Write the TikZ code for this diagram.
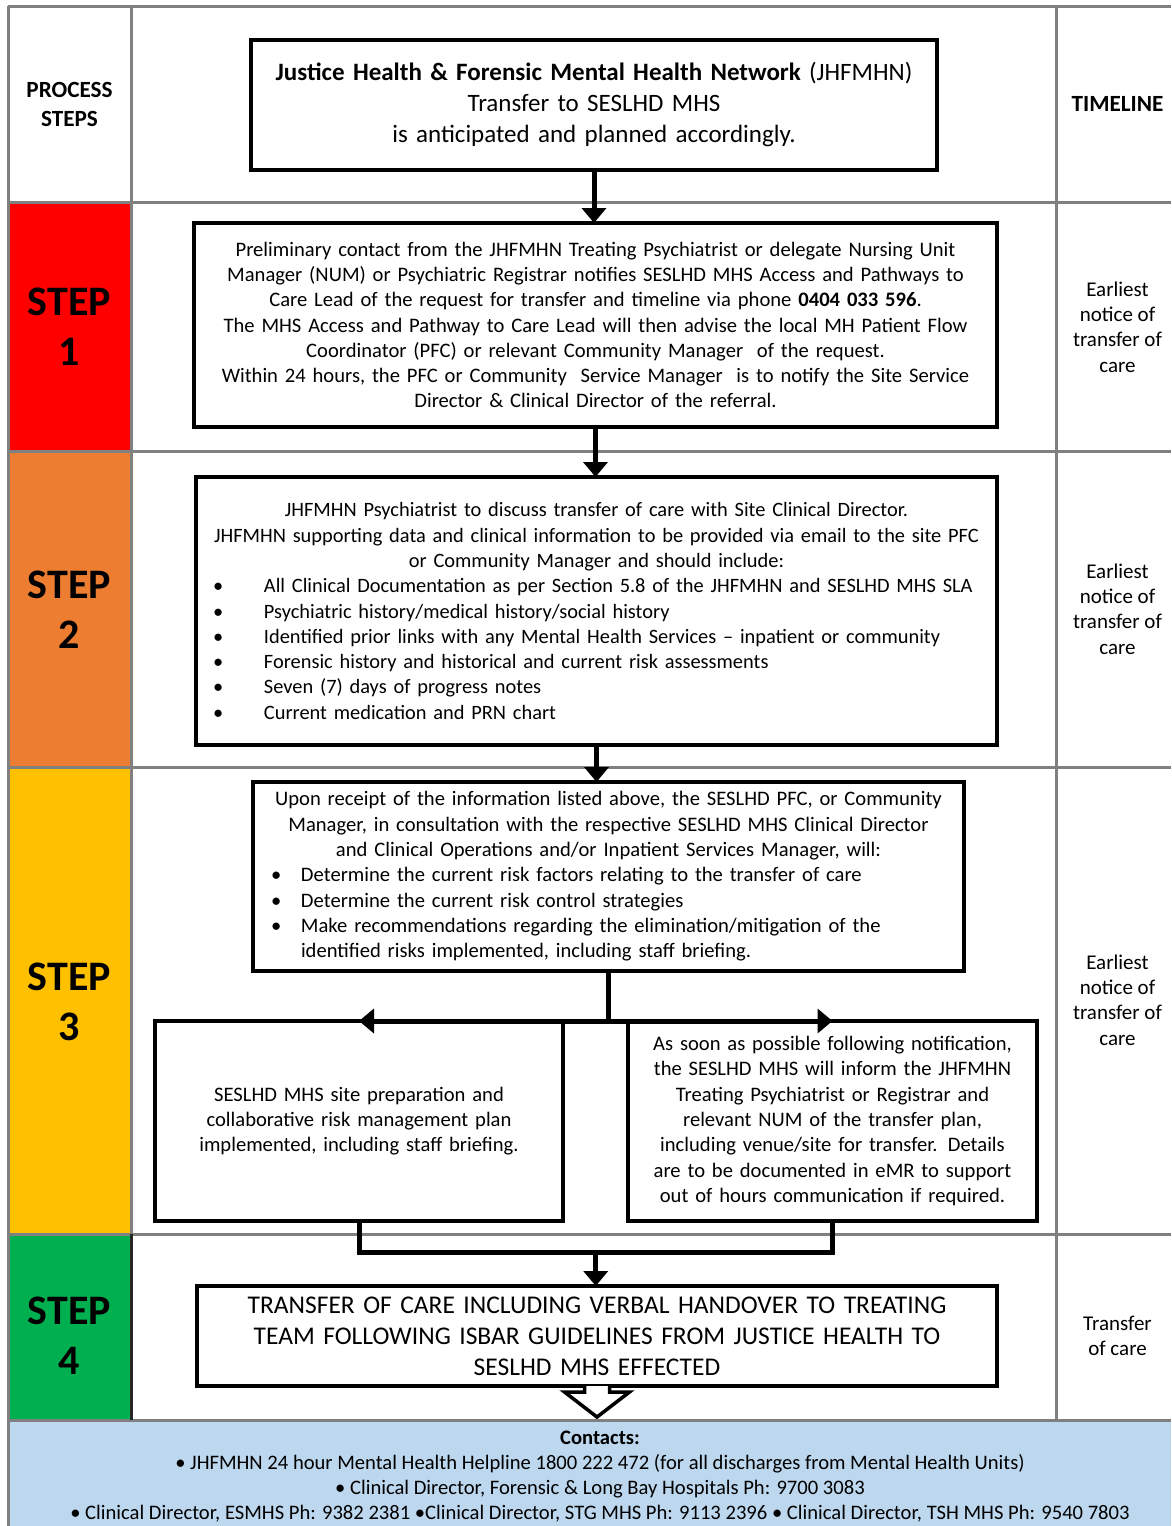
\documentclass[tikz,border=0pt]{standalone}
\usepackage{fontspec}
\setmainfont{Carlito}
\usetikzlibrary{arrows.meta,calc}
\definecolor{stepred}{HTML}{FE0000}
\definecolor{steporange}{HTML}{ED7D31}
\definecolor{stepyellow}{HTML}{FFC000}
\definecolor{stepgreen}{HTML}{00B050}
\definecolor{contactblue}{HTML}{BDD7EE}
\definecolor{gridgray}{HTML}{808080}
\newcommand{\bulA}{\hspace*{7pt}\makebox[51pt][l]{\textbullet}}
\newcommand{\bulB}{\makebox[30pt][l]{\textbullet}}
\begin{document}
\begin{tikzpicture}[x=1pt,y=-1pt,
  box/.style={draw=black, line width=4pt, fill=white, inner ysep=0pt, outer sep=0pt},
  conn/.style={draw=black, line width=5pt, line join=miter},
  tip/.style={-{Triangle[width=24pt,length=15pt]}},
  gridline/.style={draw=gridgray, line width=3pt},
  body/.style={font=\fontsize{20.6}{25.3}\selectfont},
  steplabel/.style={font=\fontsize{42}{50}\selectfont\bfseries, align=center, inner sep=0pt},
  headlabel/.style={font=\fontsize{23.2}{29}\selectfont\bfseries, align=center, inner sep=0pt},
  timetext/.style={font=\fontsize{21}{25.3}\selectfont, align=center, inner sep=0pt}
]
\useasboundingbox (0,0) rectangle (1171,1526);
\fill[white] (0,0) rectangle (1171,1526);

% coloured step cells
\fill[stepred] (8,202) rectangle (131,451);
\fill[steporange] (8,451) rectangle (131,767);
\fill[stepyellow] (8,767) rectangle (131,1234);
\fill[stepgreen] (8,1234) rectangle (131,1420);
\node[fill=contactblue, minimum width=1163pt, minimum height=106pt, anchor=north west, inner sep=0pt] (contacts) at (8,1420) {};

% grid
\draw[gridline] (8,6) -- (1171,6);
\draw[gridline] (8,6) -- (8,1526);
\draw[gridline] (131,6) -- (131,1420);
\draw[gridline] (1056,6) -- (1056,1420);
\foreach \yy in {202,451,767,1234,1420} {\draw[gridline] (8,\yy) -- (1171,\yy);}
\draw[line width=3pt, black!85] (131,1234) -- (131,1420);

% left and right column labels
\node[headlabel] (hps) at (69.5,104.5) {PROCESS\\STEPS};
\node[headlabel] (htl) at (1117.5,104) {TIMELINE};
\node[steplabel] (st1) at (69.5,327) {STEP\\1};
\node[steplabel] (st2) at (69.5,609.5) {STEP\\2};
\node[steplabel] (st3) at (69.5,1001.5) {STEP\\3};
\node[steplabel] (st4) at (69.5,1335.5) {STEP\\4};
\node[timetext] (tl1) at (1117.5,327) {Earliest\\notice of\\transfer of\\care};
\node[timetext] (tl2) at (1117.5,609) {Earliest\\notice of\\transfer of\\care};
\node[timetext] (tl3) at (1117.5,1000) {Earliest\\notice of\\transfer of\\care};
\node[timetext] (tl4) at (1117.5,1336) {Transfer\\of care};

% boxes
\node[box, minimum width=686pt, minimum height=130pt, text width=656pt, inner xsep=15pt, align=center,
  font=\fontsize{25}{31}\selectfont] (top) at (594,105)
  {\textbf{Justice Health \& Forensic Mental Health Network} (JHFMHN)\\
   Transfer to SESLHD MHS\\
   is anticipated and planned accordingly.};

\node[box, body, minimum width=803pt, minimum height=204pt, text width=779pt, inner xsep=12pt, align=center] (s1) at (595.5,325)
  {Preliminary contact from the JHFMHN Treating Psychiatrist or delegate Nursing Unit\\
   Manager (NUM) or Psychiatric Registrar notifies SESLHD MHS Access and Pathways to\\
   Care Lead of the request for transfer and timeline via phone \textbf{0404 033 596}.\\
   The MHS Access and Pathway to Care Lead will then advise the local MH Patient Flow\\
   Coordinator (PFC) or relevant Community Manager\ \ of the request.\\
   Within 24 hours, the PFC or Community\ \ Service Manager\ \ is to notify the Site Service\\
   Director \& Clinical Director of the referral.};

\node[box, font=\fontsize{20.4}{25.3}\selectfont, minimum width=801pt, minimum height=268pt, text width=781pt, inner xsep=10pt] (s2) at (596.5,611)
  {\parindent=0pt\centering
   JHFMHN Psychiatrist to discuss transfer of care with Site Clinical Director.\\
   JHFMHN supporting data and clinical information to be provided via email to the site PFC\\
   or Community Manager and should include:\par
   \raggedright
   \bulA All Clinical Documentation as per Section 5.8 of the JHFMHN and SESLHD MHS SLA\\
   \bulA Psychiatric history/medical history/social history\\
   \bulA Identified prior links with any Mental Health Services -- inpatient or community\\
   \bulA Forensic history and historical and current risk assessments\\
   \bulA Seven (7) days of progress notes\\
   \bulA Current medication and PRN chart\par};

\node[box, body, minimum width=711pt, minimum height=189pt, text width=675pt, inner xsep=18pt] (s3) at (608.5,876.5)
  {\parindent=0pt\centering
   Upon receipt of the information listed above, the SESLHD PFC, or Community\\
   Manager, in consultation with the respective SESLHD MHS Clinical Director\\
   and Clinical Operations and/or Inpatient Services Manager, will:\par
   \raggedright
   \bulB Determine the current risk factors relating to the transfer of care\\
   \bulB Determine the current risk control strategies\\
   \bulB Make recommendations regarding the elimination/mitigation of the\\
   \hspace*{30pt}identified risks implemented, including staff briefing.\par};

\node[box, body, minimum width=408pt, minimum height=200pt, text width=384pt, inner xsep=12pt, align=center] (L) at (359,1121)
  {SESLHD MHS site preparation and\\
   collaborative risk management plan\\
   implemented, including staff briefing.};

\node[box, body, minimum width=409pt, minimum height=200pt, text width=385pt, inner xsep=12pt, align=center] (R) at (832.5,1121)
  {As soon as possible following notification,\\
   the SESLHD MHS will inform the JHFMHN\\
   Treating Psychiatrist or Registrar and\\
   relevant NUM of the transfer plan,\\
   including venue/site for transfer. Details\\
   are to be documented in eMR to support\\
   out of hours communication if required.};

\node[box, minimum width=800pt, minimum height=100pt, text width=776pt, inner xsep=12pt, align=center,
  font=\fontsize{25.5}{31}\selectfont] (s4) at (597,1336)
  {TRANSFER OF CARE INCLUDING VERBAL HANDOVER TO TREATING\\
   TEAM FOLLOWING ISBAR GUIDELINES FROM JUSTICE HEALTH TO\\
   SESLHD MHS EFFECTED};

% contacts text
\node[font=\fontsize{20.6}{25}\selectfont, align=center, inner sep=0pt] (ctext) at (600,1477)
  {\textbf{Contacts:}\\
   \textbullet\ JHFMHN 24 hour Mental Health Helpline 1800 222 472 (for all discharges from Mental Health Units)\\
   \textbullet\ Clinical Director, Forensic \& Long Bay Hospitals Ph: 9700 3083\\
   \textbullet\ Clinical Director, ESMHS Ph: 9382 2381 \textbullet Clinical Director, STG MHS Ph: 9113 2396 \textbullet\ Clinical Director, TSH MHS Ph: 9540 7803};

% connectors
\draw[conn,tip] (top.south) -- (top.south |- s1.north);
\draw[conn,tip] (s1.south) -- (s1.south |- s2.north);
\draw[conn,tip] (s2.south) -- (s2.south |- s3.north);
\coordinate (j) at (s3.south |- L.north);
\draw[conn] (s3.south) -- (j);
\draw[conn,tip] (j) -- (L.north);
\draw[conn,tip] (j) -- (R.north);
\draw[conn] (L.south) -- ++(0,31) -| (R.south);
\coordinate (m) at ($(L.south)!0.5!(R.south)+(0,31)$);
\draw[conn,tip] (m) -- (m |- s4.north);

% hollow arrow to contacts
\draw[line width=3.5pt, fill=white, line join=miter]
  ($(s4.south)+(-12.5,0)$) -- ++(0,6) -- ++(-20,0)
  -- ($(s4.south |- contacts.north)+(0,-3)$)
  -- ($(s4.south)+(32.5,6)$) -- ++(-20,0) -- ++(0,-6);
\end{tikzpicture}
\end{document}
